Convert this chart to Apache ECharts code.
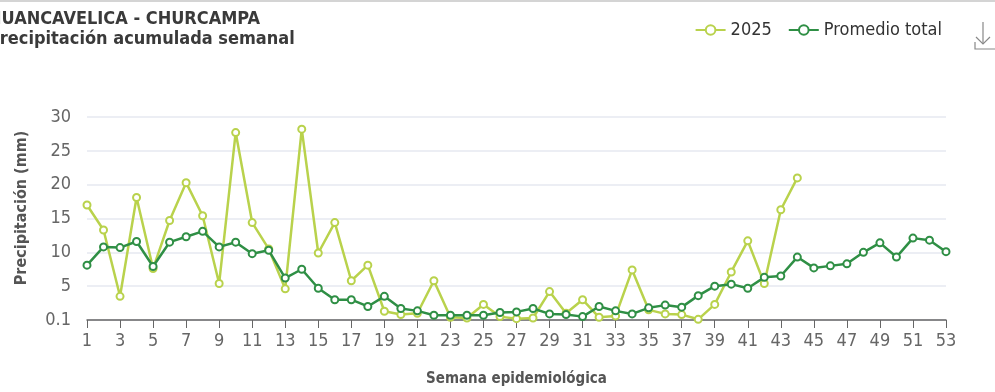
<!DOCTYPE html>
<html>
<head>
<meta charset="utf-8">
<script src="https://cdn.jsdelivr.net/npm/echarts@6/dist/echarts.min.js"></script>
<style>
html,body{margin:0;padding:0;background:#fff;}
#c{width:995px;height:392px;}
</style>
</head>
<body>
<div id="c"></div>
<script>
var weeks = [];
for (var i = 1; i <= 53; i++) weeks.push(String(i));

var y2025 = [17.0, 13.3, 3.5, 18.1, 7.6, 14.7, 20.3, 15.4, 5.4, 27.7,
  14.4, 10.5, 4.6, 28.2, 9.9, 14.4, 5.8, 8.1, 1.3, 0.8,
  1.0, 5.8, 0.4, 0.3, 2.3, 0.5, 0.2, 0.3, 4.2, 1.0,
  3.0, 0.4, 0.6, 7.4, 1.5, 0.9, 0.8, 0.1, 2.3, 7.1,
  11.7, 5.4, 16.3, 21.0];

var promedio = [8.1, 10.8, 10.7, 11.6, 7.9, 11.5, 12.3, 13.1, 10.8, 11.5,
  9.8, 10.3, 6.2, 7.5, 4.7, 3.0, 3.0, 2.0, 3.5, 1.7,
  1.35, 0.7, 0.7, 0.7, 0.7, 1.1, 1.2, 1.7, 0.9, 0.8,
  0.5, 2.0, 1.35, 0.9, 1.8, 2.2, 1.9, 3.6, 5.0, 5.3,
  4.7, 6.3, 6.5, 9.3, 7.7, 8.0, 8.3, 10.0, 11.4, 9.3,
  12.1, 11.8, 10.1];

var yTicks = ['0.1', '5', '10', '15', '20', '25', '30'];

var FONT = '"DejaVu Sans Condensed", "Liberation Sans Narrow", "Open Sans", sans-serif';
var C2025 = '#b9d24c';
var CPROM = '#2f8f45';

var chart = echarts.init(document.getElementById('c'), null, {renderer: 'canvas'});
chart.setOption({
  animation: false,
  backgroundColor: '#fff',
  textStyle: {fontFamily: FONT},
  title: {
    text: 'HUANCAVELICA - CHURCAMPA\nPrecipitación acumulada semanal',
    left: -17,
    top: 4,
    textStyle: {fontFamily: FONT, fontSize: 18, fontWeight: 'bold', color: '#3a3a3a', lineHeight: 20}
  },
  legend: {
    right: 48,
    top: 16,
    itemWidth: 30,
    itemHeight: 12,
    itemGap: 16,
    textStyle: {fontFamily: FONT, fontSize: 18, color: '#333'},
    data: ['2025', 'Promedio total']
  },
  graphic: [
    {type: 'rect', shape: {x: 0, y: 0, width: 995, height: 2}, style: {fill: '#d4d4d4'}, silent: true},
    {type: 'polyline', shape: {points: [[983, 22], [983, 44]]}, style: {stroke: '#888', lineWidth: 1.2, fill: null}},
    {type: 'polyline', shape: {points: [[976, 37], [983, 44], [990, 37]]}, style: {stroke: '#888', lineWidth: 1.2, fill: null}},
    {type: 'polyline', shape: {points: [[975, 42], [975, 49], [995, 49]]}, style: {stroke: '#888', lineWidth: 1.2, fill: null}},
    {type: 'text', x: 22, y: 208, rotation: Math.PI / 2,
      style: {text: 'Precipitación (mm)', fill: '#555', font: 'bold 16px ' + FONT, align: 'center', verticalAlign: 'middle'}}
  ],
  grid: {left: 87, right: 49, top: 117, bottom: 68, containLabel: false},
  xAxis: {
    type: 'category',
    data: weeks,
    boundaryGap: false,
    name: 'Semana epidemiológica',
    nameLocation: 'middle',
    nameGap: 52,
    nameTextStyle: {fontFamily: FONT, fontSize: 15, fontWeight: 'bold', color: '#555'},
    axisLine: {show: true, lineStyle: {color: '#666', width: 1.5}},
    axisTick: {show: true, interval: 1, length: 8, alignWithLabel: true, lineStyle: {color: '#666'}},
    axisLabel: {interval: 1, fontFamily: FONT, fontSize: 18, color: '#666', margin: 12},
    splitLine: {show: false}
  },
  yAxis: {
    type: 'value',
    min: 0,
    max: 30,
    interval: 5,
    axisLine: {show: false},
    axisTick: {show: false},
    axisLabel: {
      fontFamily: FONT, fontSize: 18, color: '#666', margin: 16,
      formatter: function (v) { return yTicks[Math.round(v / 5)]; }
    },
    splitLine: {lineStyle: {color: '#e6e9f0', width: 1.5}}
  },
  series: [
    {
      name: '2025',
      type: 'line',
      data: y2025,
      symbol: 'emptyCircle',
      symbolSize: 7,
      itemStyle: {color: C2025, borderWidth: 2},
      lineStyle: {color: C2025, width: 2.5},
      z: 2
    },
    {
      name: 'Promedio total',
      type: 'line',
      data: promedio,
      symbol: 'emptyCircle',
      symbolSize: 7,
      itemStyle: {color: CPROM, borderWidth: 2},
      lineStyle: {color: CPROM, width: 2.5},
      z: 3
    }
  ]
});
</script>
</body>
</html>
